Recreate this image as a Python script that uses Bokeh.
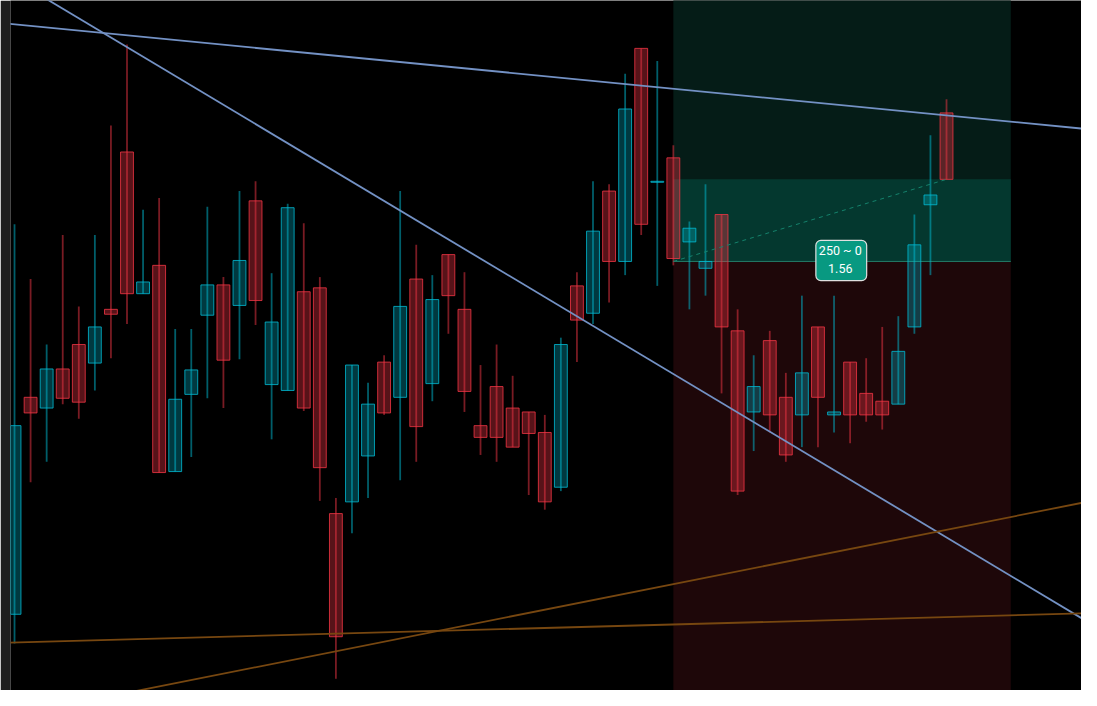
from bokeh.plotting import figure
from bokeh.models import Range1d, Label, ColumnDataSource
from bokeh.embed import file_html
from bokeh.resources import INLINE

# ---- candle data (index, OHLC in price units) ----
opens = [78, 300, 289, 329, 354, 335, 390, 551, 406, 435,
         224, 303, 384, 415, 394, 501, 313, 307, 408, 412,
         181, 193, 240, 336, 300, 421, 314, 446, 390, 271,
         311, 289, 285, 264, 208, 414, 386, 511, 439, 657,
         520, 545, 459, 432, 487, 368, 285, 358, 300, 282,
         372, 282, 336, 304, 296, 293, 372, 497, 591]
highs = [477, 421, 354, 466, 393, 466, 578, 661, 492, 504,
         370, 370, 495, 423, 511, 521, 427, 498, 478, 423,
         197, 333, 315, 343, 511, 456, 425, 446, 428, 333,
         354, 322, 285, 282, 361, 428, 521, 518, 631, 657,
         644, 558, 480, 518, 487, 390, 343, 368, 325, 404,
         372, 404, 336, 340, 372, 383, 487, 568, 605]
lows = [48, 213, 234, 293, 278, 307, 340, 375, 406, 223,
        224, 239, 299, 289, 339, 374, 257, 307, 286, 194,
        12, 161, 197, 282, 215, 234, 296, 365, 285, 241,
        234, 249, 200, 185, 204, 336, 375, 397, 425, 466,
        414, 435, 390, 404, 304, 200, 245, 264, 234, 249,
        249, 264, 253, 275, 267, 293, 365, 425, 523]
closes = [271, 284, 329, 299, 295, 372, 385, 406, 418, 223,
          298, 328, 415, 338, 440, 399, 377, 494, 289, 228,
          55, 333, 293, 284, 393, 270, 400, 404, 306, 259,
          259, 249, 263, 193, 354, 379, 470, 439, 595, 477,
          521, 442, 473, 439, 372, 204, 311, 282, 241, 325,
          300, 285, 282, 282, 282, 347, 456, 507, 523]

# ---- drawings ----
blue_line_1 = ([-2, 70], [684.8, 569.2])
blue_line_2 = ([-2, 70], [746.8, 38.6])
orange_line_1 = ([-2, 70], [48.2, 80.6])
orange_line_2 = ([-2, 70], [-31.8, 203.7])

pos_start, pos_end = 41, 62
entry_price = 439
target_price = 800
stop_price = -40
current_index, current_price = 58, 523
pos_label = "250 ~ 0\n1.56"

UP, DOWN = "#00bcd4", "#f23645"

n = len(opens)
xs = list(range(n))
up = [c >= o for o, c in zip(opens, closes)]
src = ColumnDataSource(dict(
    x=xs,
    top=[max(o, c) if abs(o - c) >= 1 else o + 0.6 for o, c in zip(opens, closes)],
    bottom=[min(o, c) if abs(o - c) >= 1 else o - 0.6 for o, c in zip(opens, closes)],
    high=highs, low=lows,
    color=[UP if u else DOWN for u in up],
    falpha=[0.3 if u else 0.36 for u in up],
))

p = figure(width=1081, height=690, output_backend="svg", toolbar_location=None,
           x_axis_type=None, y_axis_type=None,
           x_range=Range1d(-0.25, 66.4), y_range=Range1d(0, 706),
           background_fill_color="#000000", border_fill_color="#1e1e1e",
           min_border_left=10, min_border_right=0, min_border_top=0, min_border_bottom=0)
p.grid.visible = False
p.outline_line_color = None

# position tool zones
p.quad(left=pos_start, right=pos_end, bottom=entry_price, top=target_price,
       fill_color="#051c17", line_color=None)
p.quad(left=pos_start, right=pos_end, bottom=stop_price, top=entry_price,
       fill_color="#1e0709", line_color=None)
p.quad(left=pos_start, right=pos_end, bottom=entry_price, top=current_price,
       fill_color="#04382f", line_color=None)
p.segment(x0=pos_start, y0=entry_price, x1=pos_end, y1=entry_price,
          line_color="#247a66", line_width=1)

# candles
p.segment(x0="x", y0="high", x1="x", y1="low", source=src,
          line_color="color", line_alpha=0.5, line_width=1.8)
p.vbar(x="x", width=0.8, top="top", bottom="bottom", source=src,
       fill_color="color", fill_alpha="falpha",
       line_color="color", line_alpha=0.8, line_width=1)

# dashed line from entry to current price
p.line([pos_start, current_index], [entry_price, current_price],
       line_color="#15826c", line_width=1, line_dash="4 4")

# trend lines
p.line(*blue_line_1, line_color="#7391c4", line_width=1.8)
p.line(*blue_line_2, line_color="#7391c4", line_width=1.8)
p.line(*orange_line_1, line_color="#774710", line_width=1.8)
p.line(*orange_line_2, line_color="#774710", line_width=1.8)

lab = Label(x=51.45, y=440, text=pos_label, text_align="center", text_baseline="middle",
            text_color="white", text_font="Roboto", text_font_size="12.5px",
            background_fill_color="#089981", border_line_color="#e0e0e0",
            border_line_width=1.2, border_radius=5, padding=[3, 5, 3, 5],
            text_line_height=1.15)
p.add_layout(lab)

open("out.html", "w").write(file_html(p, INLINE))
